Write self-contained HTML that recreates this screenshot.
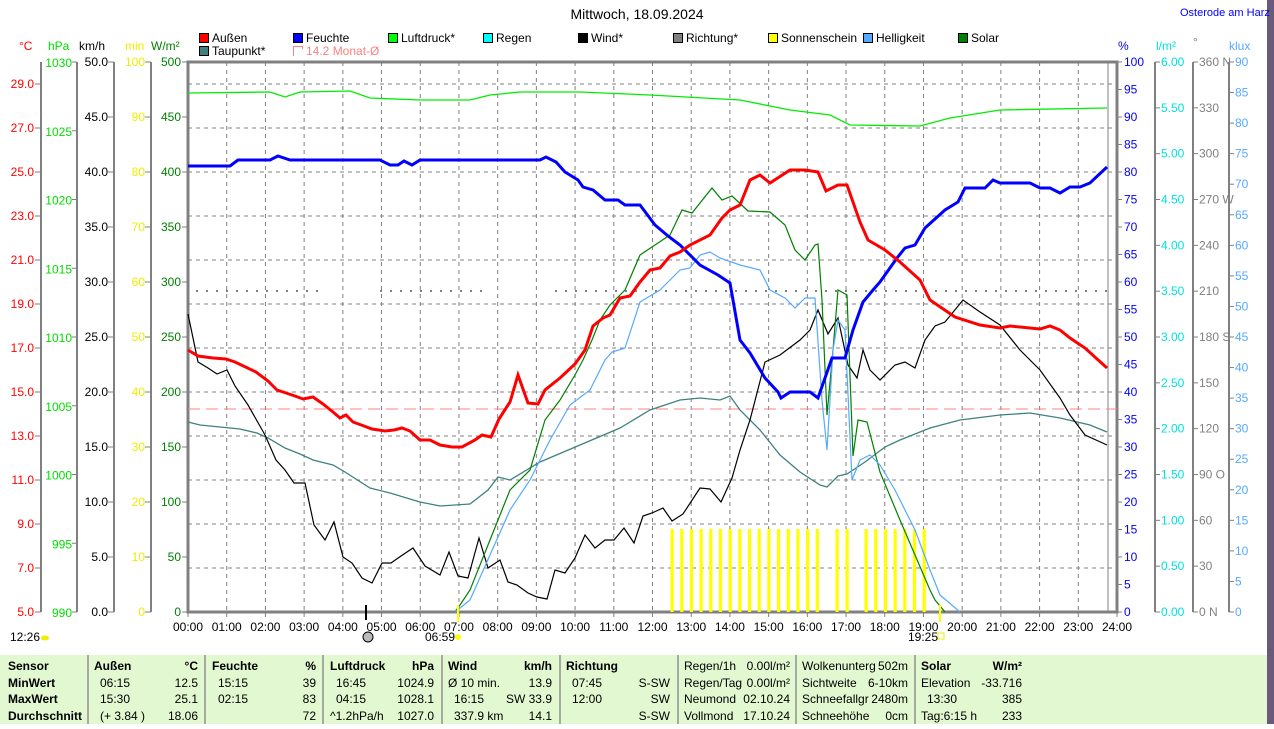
<!DOCTYPE html>
<html><head><meta charset="utf-8"><style>
body{margin:0;background:#fff;width:1274px;height:724px;overflow:hidden;font-family:"Liberation Sans",sans-serif}
svg text{font-family:"Liberation Sans",sans-serif;font-size:12px}
</style></head><body>
<svg width="1274" height="724" xmlns="http://www.w3.org/2000/svg">
<rect x="1267" y="0" width="7" height="724" fill="#6a5a7a"/>
<text x="637" y="19" text-anchor="middle" font-size="14" style="font-size:14px">Mittwoch, 18.09.2024</text>
<text x="1180" y="16" fill="#0000ff" style="font-size:11px">Osterode am Harz</text>
<g stroke="#000" stroke-width="1">
<rect x="199.5" y="33.5" width="9" height="9" fill="#ff0000"/>
<rect x="293.5" y="33.5" width="9" height="9" fill="#0000ff"/>
<rect x="388.5" y="33.5" width="9" height="9" fill="#00ff00"/>
<rect x="483.5" y="33.5" width="9" height="9" fill="#00ffff"/>
<rect x="578.5" y="33.5" width="9" height="9" fill="#000"/>
<rect x="673.5" y="33.5" width="9" height="9" fill="#808080"/>
<rect x="768.5" y="33.5" width="9" height="9" fill="#ffff00"/>
<rect x="863.5" y="33.5" width="9" height="9" fill="#55aaff"/>
<rect x="958.5" y="33.5" width="9" height="9" fill="#008000"/>
<rect x="199.5" y="46.5" width="9" height="9" fill="#408080"/>
</g>
<path d="M293.5 56V46.5H302.5V49" fill="none" stroke="#ff8080"/>
<g style="font-size:12px">
<text x="212" y="42">Außen</text><text x="306" y="42">Feuchte</text><text x="401" y="42">Luftdruck*</text>
<text x="496" y="42">Regen</text><text x="591" y="42">Wind*</text><text x="686" y="42">Richtung*</text>
<text x="781" y="42">Sonnenschein</text><text x="876" y="42">Helligkeit</text><text x="971" y="42">Solar</text>
<text x="212" y="55">Taupunkt*</text><text x="306" y="55" fill="#ff8080">14.2 Monat-Ø</text>
</g>
<text x="19" y="50" fill="#ff0000">°C</text><text x="48" y="50" fill="#00dd00">hPa</text>
<text x="79" y="50">km/h</text><text x="125" y="50" fill="#eeee00">min</text><text x="151" y="50" fill="#008000">W/m²</text>
<text x="1118" y="50" fill="#0000ff">%</text><text x="1156" y="50" fill="#00e0e0">l/m²</text>
<text x="1193" y="46" fill="#808080">°</text><text x="1229" y="50" fill="#55aaff">klux</text>
<g stroke="#808080" stroke-width="2">
<line x1="41" y1="62" x2="41" y2="612"/><line x1="77" y1="62" x2="77" y2="612"/>
<line x1="114" y1="62" x2="114" y2="612"/><line x1="151" y1="62" x2="151" y2="612"/>
<line x1="1155" y1="62" x2="1155" y2="612"/><line x1="1193" y1="62" x2="1193" y2="612"/>
<line x1="1229" y1="62" x2="1229" y2="612"/>
</g>
<g id="ticks" stroke="#808080" stroke-width="1"></g>
<g id="labels"></g>
<g id="grid" stroke="#808080" stroke-width="1" stroke-dasharray="4,4"></g>
<rect x="188" y="62" width="929" height="550" fill="none" stroke="#808080" stroke-width="3"/>
<line x1="1108" y1="62" x2="1108" y2="612" stroke="#808080" stroke-width="1"/>
<g id="bars" fill="#ffff00"></g>
<line x1="188" y1="409" x2="1117" y2="409" stroke="#ff8080" stroke-dasharray="12,6"/>
<g stroke="#808080" stroke-width="2" stroke-dasharray="2,8">
<line x1="196" y1="291" x2="320" y2="291"/><line x1="380" y1="291" x2="490" y2="291"/><line x1="555" y1="291" x2="1107" y2="291"/>
</g>
<polyline fill="none" stroke="#00ee00" stroke-width="1.3" points="188,93 270,92 285,97 300,92 350,91 370,98 420,100 470,100 490,95 520,92 580,92 650,95 740,100 790,110 830,115 850,125 920,126 950,118 1000,110 1107,108"/>
<polyline fill="none" stroke="#408080" stroke-width="1.3" points="188,422 200,425 220,427 240,429 257,433 268,438 285,448 300,454 313,460 333,465 345,472 370,488 390,493 420,502 440,506 470,504 488,490 498,477 510,480 540,462 580,445 620,428 650,410 680,400 700,398 720,400 730,396 740,410 760,430 780,455 800,472 820,485 827,487 838,476 847,474 865,462 885,447 900,440 930,428 960,420 1000,415 1030,413 1060,418 1090,425 1107,432"/>
<polyline fill="none" stroke="#000" stroke-width="1.2" points="188,314 198,362 208,368 217,374 227,370 235,386 248,405 265,435 276,460 285,470 294,483 305,483 314,525 325,540 334,522 343,557 352,563 362,578 372,583 382,563 391,563 401,556 413,548 425,566 440,575 449,552 458,576 468,578 479,538 488,568 500,560 508,582 517,585 528,593 537,597 547,599 555,570 565,573 575,558 585,535 595,548 605,540 614,540 624,528 634,543 643,516 652,513 663,508 672,521 683,514 700,488 710,489 721,502 732,478 740,450 750,420 765,362 780,355 800,340 810,330 818,310 828,334 838,318 848,365 857,378 863,350 870,370 880,380 895,365 905,362 915,368 925,340 935,326 945,322 963,300 980,312 1000,325 1020,350 1040,370 1060,398 1070,415 1085,435 1107,445"/>
<polyline fill="none" stroke="#008000" stroke-width="1.2" points="455,612 460,605 470,590 490,540 510,490 530,470 545,420 560,400 575,375 583,360 592,340 600,320 610,305 625,290 640,255 655,245 670,235 682,210 692,213 712,188 722,200 732,196 748,211 770,212 785,225 795,250 805,260 815,245 818,244 822,300 827,415 833,350 838,290 847,295 853,456 858,420 867,422 880,472 900,520 915,555 930,590 935,600 945,612"/>
<polyline fill="none" stroke="#55aaff" stroke-width="1.2" points="455,612 470,600 490,555 510,510 530,480 550,440 570,405 590,390 605,360 612,352 625,348 640,302 660,290 680,270 690,268 700,255 710,252 720,258 740,265 760,270 770,290 785,298 795,308 805,298 815,298 822,400 827,450 833,350 838,320 845,330 852,480 860,460 870,455 880,465 895,490 915,530 930,570 940,595 960,612"/>
<polyline fill="none" stroke="#0000ff" stroke-width="3" points="188,166 230,166 238,160 270,160 278,156 290,160 380,160 390,165 398,165 404,161 412,165 420,160 540,160 546,157 556,162 565,172 578,180 583,187 593,190 605,200 618,200 625,205 640,205 655,225 668,236 680,245 690,255 700,265 718,275 730,283 740,340 750,353 765,378 778,392 781,398 790,392 810,392 818,398 832,358 845,358 853,330 863,302 873,290 880,282 897,258 905,248 915,245 925,228 945,210 958,202 965,188 985,188 993,180 1000,183 1030,183 1040,188 1050,188 1060,193 1070,187 1080,187 1090,183 1107,167"/>
<polyline fill="none" stroke="#ff0000" stroke-width="3" points="188,350 198,356 213,358 226,359 235,362 256,372 268,381 277,390 295,396 303,399 313,397 323,404 333,412 340,418 346,415 353,422 364,426 372,429 385,431 394,430 402,428 410,431 420,440 430,440 440,445 452,447 462,447 475,440 482,435 491,437 499,419 510,402 518,375 528,403 538,404 545,390 560,378 575,364 585,350 593,326 603,318 610,315 620,298 630,296 640,282 650,270 660,268 670,256 680,252 690,245 710,235 722,218 730,210 740,205 750,180 760,175 770,183 790,170 805,170 818,172 826,191 838,185 847,185 860,222 868,240 885,250 900,262 920,280 930,300 955,317 980,325 1000,328 1010,326 1040,329 1050,326 1060,330 1070,338 1085,348 1107,368"/>
<line x1="458" y1="605" x2="458" y2="622" stroke="#ffff00" stroke-width="2"/>
<line x1="940" y1="605" x2="940" y2="622" stroke="#ffff00" stroke-width="2"/>
<line x1="366" y1="605" x2="366" y2="620" stroke="#000" stroke-width="2"/>
<g id="xl" style="font-size:12px"></g>
<text x="10" y="641">12:26</text><ellipse cx="45" cy="638" rx="4" ry="2.5" fill="#eeee00"/>
<circle cx="368" cy="637" r="5" fill="#bbb" stroke="#000"/>
<text x="425" y="641">06:59</text><circle cx="458" cy="637" r="3" fill="#ffff00"/>
<text x="908" y="641">19:25</text><rect x="938" y="633" width="6" height="6" fill="none" stroke="#eeee00"/>
<rect x="0" y="655" width="1267" height="69" fill="#e2f8d0"/>
<g stroke="#909090" stroke-width="1.5">
<line x1="88" y1="655" x2="88" y2="724"/><line x1="205" y1="655" x2="205" y2="724"/><line x1="323" y1="655" x2="323" y2="724"/>
<line x1="442" y1="655" x2="442" y2="724"/><line x1="560" y1="655" x2="560" y2="724"/><line x1="678" y1="655" x2="678" y2="724"/>
<line x1="796" y1="655" x2="796" y2="724"/><line x1="915" y1="655" x2="915" y2="724"/>
</g>
<g style="font-size:12px">
<g font-weight="bold">
<text x="8" y="670">Sensor</text><text x="8" y="687">MinWert</text><text x="8" y="703">MaxWert</text><text x="8" y="720">Durchschnitt</text>
<text x="94" y="670">Außen</text><text x="198" y="670" text-anchor="end">°C</text>
<text x="212" y="670">Feuchte</text><text x="316" y="670" text-anchor="end">%</text>
<text x="330" y="670">Luftdruck</text><text x="434" y="670" text-anchor="end">hPa</text>
<text x="448" y="670">Wind</text><text x="552" y="670" text-anchor="end">km/h</text>
<text x="566" y="670">Richtung</text>
<text x="921" y="670">Solar</text><text x="1022" y="670" text-anchor="end">W/m²</text>
</g>
<text x="100" y="687">06:15</text><text x="198" y="687" text-anchor="end">12.5</text>
<text x="100" y="703">15:30</text><text x="198" y="703" text-anchor="end">25.1</text>
<text x="100" y="720">(+ 3.84 )</text><text x="198" y="720" text-anchor="end">18.06</text>
<text x="218" y="687">15:15</text><text x="316" y="687" text-anchor="end">39</text>
<text x="218" y="703">02:15</text><text x="316" y="703" text-anchor="end">83</text>
<text x="316" y="720" text-anchor="end">72</text>
<text x="336" y="687">16:45</text><text x="434" y="687" text-anchor="end">1024.9</text>
<text x="336" y="703">04:15</text><text x="434" y="703" text-anchor="end">1028.1</text>
<text x="330" y="720">^1.2hPa/h</text><text x="434" y="720" text-anchor="end">1027.0</text>
<text x="448" y="687">Ø 10 min.</text><text x="552" y="687" text-anchor="end">13.9</text>
<text x="454" y="703">16:15</text><text x="552" y="703" text-anchor="end">SW 33.9</text>
<text x="454" y="720">337.9 km</text><text x="552" y="720" text-anchor="end">14.1</text>
<text x="572" y="687">07:45</text><text x="670" y="687" text-anchor="end">S-SW</text>
<text x="572" y="703">12:00</text><text x="670" y="703" text-anchor="end">SW</text>
<text x="670" y="720" text-anchor="end">S-SW</text>
<text x="684" y="670">Regen/1h</text><text x="790" y="670" text-anchor="end">0.00l/m²</text>
<text x="684" y="687">Regen/Tag</text><text x="790" y="687" text-anchor="end">0.00l/m²</text>
<text x="684" y="703">Neumond</text><text x="790" y="703" text-anchor="end">02.10.24</text>
<text x="684" y="720">Vollmond</text><text x="790" y="720" text-anchor="end">17.10.24</text>
<text x="802" y="670">Wolkenunterg</text><text x="908" y="670" text-anchor="end">502m</text>
<text x="802" y="687">Sichtweite</text><text x="908" y="687" text-anchor="end">6-10km</text>
<text x="802" y="703">Schneefallgr</text><text x="908" y="703" text-anchor="end">2480m</text>
<text x="802" y="720">Schneehöhe</text><text x="908" y="720" text-anchor="end">0cm</text>
<text x="921" y="687">Elevation</text><text x="1022" y="687" text-anchor="end">-33.716</text>
<text x="927" y="703">13:30</text><text x="1022" y="703" text-anchor="end">385</text>
<text x="921" y="720">Tag:6:15 h</text><text x="1022" y="720" text-anchor="end">233</text>
</g>
<script>
var NS="http://www.w3.org/2000/svg";
function el(p,t,a,txt){var e=document.createElementNS(NS,t);for(var k in a)e.setAttribute(k,a[k]);if(txt!==undefined)e.textContent=txt;document.getElementById(p).appendChild(e);}
var hw=(1117-188)/24;
for(var h=0;h<=24;h++){var x=188+h*hw;if(h>0&&h<24)el("grid","line",{x1:x,y1:62,x2:x,y2:612});
 el("ticks","line",{x1:x,y1:612,x2:x,y2:617});
 el("xl","text",{x:x,y:631,"text-anchor":"middle"},(h<10?"0":"")+h+":00");}
for(var c=5;c<=29;c+=2){var y=612-(c-5)*22;if(c>5)el("grid","line",{x1:188,y1:y,x2:1117,y2:y});
 el("ticks","line",{x1:35,y1:y,x2:41,y2:y});el("labels","text",{x:34,y:y+4,"text-anchor":"end",fill:"#ff0000"},c.toFixed(1));}
for(var p=990;p<=1030;p+=5){var y=612-(p-990)*13.75;el("ticks","line",{x1:72,y1:y,x2:77,y2:y});el("labels","text",{x:72,y:y+5,"text-anchor":"end",fill:"#00dd00"},p);}
for(var i=0;i<=10;i++){var y=612-i*55;
 el("ticks","line",{x1:108,y1:y,x2:114,y2:y});el("labels","text",{x:108,y:y+4,"text-anchor":"end"},(i*5).toFixed(1));
 el("ticks","line",{x1:145,y1:y,x2:151,y2:y});el("labels","text",{x:145,y:y+4,"text-anchor":"end",fill:"#eeee00"},i*10);
 el("ticks","line",{x1:182,y1:y,x2:188,y2:y});el("labels","text",{x:181,y:y+4,"text-anchor":"end",fill:"#008000"},i*50);}
for(var i=0;i<=20;i++){var y=612-i*27.5;el("ticks","line",{x1:1117,y1:y,x2:1122,y2:y});el("labels","text",{x:1124,y:y+4,fill:"#0000ff"},i*5);}
var dn={360:" N",270:" W",180:" S",90:" O",0:" N"};
for(var i=0;i<=12;i++){var y=612-i*550/12;
 el("ticks","line",{x1:1155,y1:y,x2:1160,y2:y});el("labels","text",{x:1161,y:y+4,fill:"#00e0e0"},(i*0.5).toFixed(2));
 el("ticks","line",{x1:1193,y1:y,x2:1198,y2:y});el("labels","text",{x:1199,y:y+4,fill:"#808080"},(i*30)+(dn[i*30]||""));}
for(var i=0;i<=18;i++){var y=612-i*550/18;el("ticks","line",{x1:1229,y1:y,x2:1234,y2:y});el("labels","text",{x:1235,y:y+4,fill:"#55aaff"},i*5);}
var st=9.68,bx=[];for(var i=0;i<16;i++)bx.push(672+i*st);bx.push(837,847);for(var i=0;i<7;i++)bx.push(866+i*st);
bx.forEach(function(x){el("bars","rect",{x:x-1.5,y:529,width:3.2,height:83});});
</script>
</svg>
</body></html>
